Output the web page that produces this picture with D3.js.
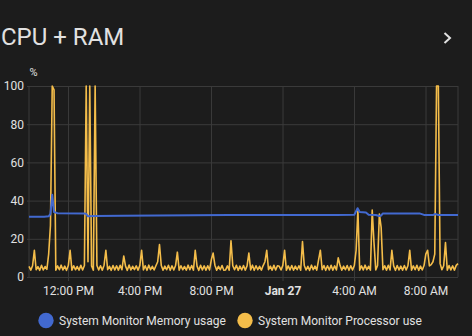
<!DOCTYPE html>
<html>
<head>
<meta charset="utf-8">
<script src="https://cdn.jsdelivr.net/npm/d3@7"></script>
<style>
  body { margin: 0; background: #1c1c1c; font-family: Roboto, "Noto Sans", sans-serif; }
  svg { display: block; }
</style>
</head>
<body>
<svg id="chart" width="472" height="336"></svg>
<script>
const title = 'CPU + RAM'
const unit = '%'
const seriesNames = ['System Monitor Memory usage', 'System Monitor Processor use']
const seriesColors = ['#4269d0', '#f4bd4a']
const yTicks = [0, 20, 40, 60, 80, 100]
const xTicks = ['26 12:00', '26 16:00', '26 20:00', '27 00:00', '27 04:00', '27 08:00']
const timeRange = ['26 09:49', '27 09:49']

// processor use, one sample every 6 minutes from 09:49 (one row = one hour)
const cpuStart = '26 09:49'
const cpuStepMin = 6
const cpuValues = [
  5.6, 3.6, 5.9, 14, 3.8, 5.4, 3.5, 6.1, 3.7, 5.5,
  4.0, 12, 27, 100, 98, 3.6, 5.8, 3.8, 6.2, 3.7,
  5.7, 3.5, 6.0, 14, 3.6, 5.9, 3.8, 5.5, 3.6, 6.1,
  3.7, 6.0, 100, 8, 100, 5.8, 3.6, 100, 6.0, 3.7,
  5.9, 3.6, 6.2, 14, 3.8, 5.6, 3.5, 6.0, 3.7, 5.8,
  3.6, 6.1, 3.8, 11, 5.7, 3.5, 6.3, 3.7, 5.6, 3.9,
  5.8, 3.6, 6.0, 14, 3.7, 5.9, 3.5, 6.2, 3.8, 5.6,
  3.7, 5.9, 8, 17, 6.0, 3.6, 5.7, 3.8, 6.1, 3.5,
  5.8, 3.7, 6.0, 13, 3.6, 5.9, 3.8, 5.5, 3.6, 6.2,
  3.8, 6.0, 3.6, 14, 5.7, 3.5, 6.1, 3.7, 5.8, 3.6,
  5.9, 3.7, 9, 12.5, 6.2, 3.6, 5.6, 3.8, 6.0, 3.5,
  3.7, 5.8, 3.6, 19, 5.9, 3.8, 6.1, 3.5, 5.7, 3.7,
  6.0, 3.6, 5.8, 12.5, 3.7, 6.2, 3.5, 5.9, 3.8, 5.6,
  3.6, 6.0, 8, 14, 3.8, 5.7, 3.6, 6.1, 3.7, 5.9,
  5.6, 3.7, 6.1, 14, 3.5, 5.8, 3.7, 6.0, 3.6, 5.7,
  3.8, 5.9, 3.6, 18.5, 6.0, 3.7, 5.6, 3.5, 6.2, 3.8,
  5.7, 3.6, 9, 14, 3.8, 6.0, 3.5, 5.9, 3.7, 6.1,
  3.6, 5.8, 3.7, 10, 6.1, 3.6, 5.7, 3.8, 6.0, 3.5,
  5.9, 3.7, 6.0, 14, 35, 3.6, 5.8, 3.7, 6.2, 3.8,
  5.6, 3.6, 35, 18, 3.7, 6.0, 33, 26, 3.8, 5.9,
  3.6, 6.1, 3.7, 14, 5.8, 3.5, 6.0, 3.7, 5.7, 3.6,
  6.0, 3.7, 5.9, 14, 3.6, 5.8, 3.8, 6.1, 3.5, 5.7,
  3.7, 6.0, 12, 14, 5.8, 6.5, 8, 12, 100, 100,
  7, 3.8, 5.9, 18, 3.6, 6.0, 3.7, 5.8, 3.6, 6.1,
  7
]

// memory usage
const memTimes = [
  '26 09:49', '26 10:40', '26 10:55', '26 11:01', '26 11:07', '26 11:13', '26 11:25',
  '26 12:55', '26 13:01', '26 13:07', '26 13:30', '26 15:00', '26 17:00', '26 19:00',
  '26 21:00', '26 23:00', '27 01:00', '27 03:00', '27 04:01', '27 04:12', '27 04:19',
  '27 04:40', '27 04:49', '27 05:13', '27 05:25', '27 05:31', '27 05:37', '27 07:40',
  '27 07:55', '27 08:25', '27 08:31', '27 08:43', '27 09:49'
]
const memValues = [
  31.6, 31.6, 31.8, 33, 43, 34, 33.4,
  33.2, 33, 31.8, 32, 32.1, 32.2, 32.3,
  32.4, 32.5, 32.5, 32.5, 32.6, 36, 34,
  33.8, 32.6, 32.5, 31.9, 32.2, 33.3, 33.3,
  32.5, 32.4, 33.0, 32.5, 32.4
]

const parse = d3.timeParse('%Y-%m-%d %H:%M')
const toDate = s => parse('2025-01-' + s)

const start = toDate(cpuStart)
const cpu = cpuValues.map((v, i) => ({ t: d3.timeMinute.offset(start, i * cpuStepMin), v }))
const mem = memTimes.map((s, i) => ({ t: toDate(s), v: memValues[i] }))

const svg = d3.select('#chart')
const margin = { top: 86, right: 14, bottom: 59, left: 29 }
const width = 472 - margin.left - margin.right
const height = 336 - margin.top - margin.bottom

const x = d3.scaleTime().domain(timeRange.map(toDate)).range([0, width])
const y = d3.scaleLinear().domain([0, 100]).range([height, 0])

// header
svg.append('text')
  .attr('x', 1).attr('y', 45)
  .attr('fill', '#e1e1e1')
  .style('font-size', '24px')
  .text(title)

svg.append('path')
  .attr('d', 'M444.5,33 L450,38 L444.5,43')
  .attr('fill', 'none')
  .attr('stroke', '#e1e1e1')
  .attr('stroke-width', 2)

const g = svg.append('g').attr('transform', `translate(${margin.left},${margin.top})`)

const gridColor = '#3a3a3a'

// y grid + labels
const yAxis = g.append('g')
  .attr('transform', 'translate(-2,0)')
  .call(d3.axisLeft(y).tickValues(yTicks).tickSize(-width - 2).tickSizeOuter(0).tickPadding(3))
yAxis.select('.domain').remove()
yAxis.selectAll('line').attr('stroke', gridColor)
yAxis.selectAll('text').attr('fill', '#e1e1e1').style('font-size', '12px').style('font-family', 'Roboto')

// x grid + labels
const fmt = d3.timeFormat('%-I:%M %p')
const xAxis = g.append('g')
  .call(d3.axisBottom(x).tickValues(xTicks.map(toDate)).tickSize(height + 4).tickSizeOuter(0).tickPadding(5)
    .tickFormat(d => d.getHours() === 0 ? d3.timeFormat('%b %-d')(d) : fmt(d)))
xAxis.select('.domain').remove()
xAxis.selectAll('line').attr('stroke', gridColor)
xAxis.selectAll('text')
  .attr('fill', '#e1e1e1')
  .style('font-size', '12px')
  .style('font-family', 'Roboto')
  .style('font-weight', d => d.getHours() === 0 ? 'bold' : null)

// left / right borders
g.append('line').attr('x1', 0).attr('x2', 0).attr('y1', 0).attr('y2', height).attr('stroke', gridColor)
g.append('line').attr('x1', width).attr('x2', width).attr('y1', 0).attr('y2', height).attr('stroke', gridColor)

// unit label
svg.append('text')
  .attr('x', 29.5).attr('y', 76)
  .attr('fill', '#e1e1e1')
  .style('font-size', '11px')
  .text(unit)

const line = d3.line().x(d => x(d.t)).y(d => y(d.v))

g.append('path')
  .datum(cpu)
  .attr('d', line)
  .attr('fill', 'none')
  .attr('stroke', seriesColors[1])
  .attr('stroke-width', 1.6)
  .attr('stroke-linejoin', 'round')

g.append('path')
  .datum(mem)
  .attr('d', line)
  .attr('fill', 'none')
  .attr('stroke', seriesColors[0])
  .attr('stroke-width', 2)
  .attr('stroke-linejoin', 'round')

// legend
const legendX = [46, 245]
const legend = svg.append('g')
seriesNames.forEach((name, i) => {
  legend.append('circle')
    .attr('cx', legendX[i]).attr('cy', 320.5).attr('r', 7.7)
    .attr('fill', seriesColors[i])
  legend.append('text')
    .attr('x', legendX[i] + 13).attr('y', 325)
    .attr('fill', '#e1e1e1')
    .style('font-size', '12px')
    .text(name)
})
</script>
</body>
</html>
